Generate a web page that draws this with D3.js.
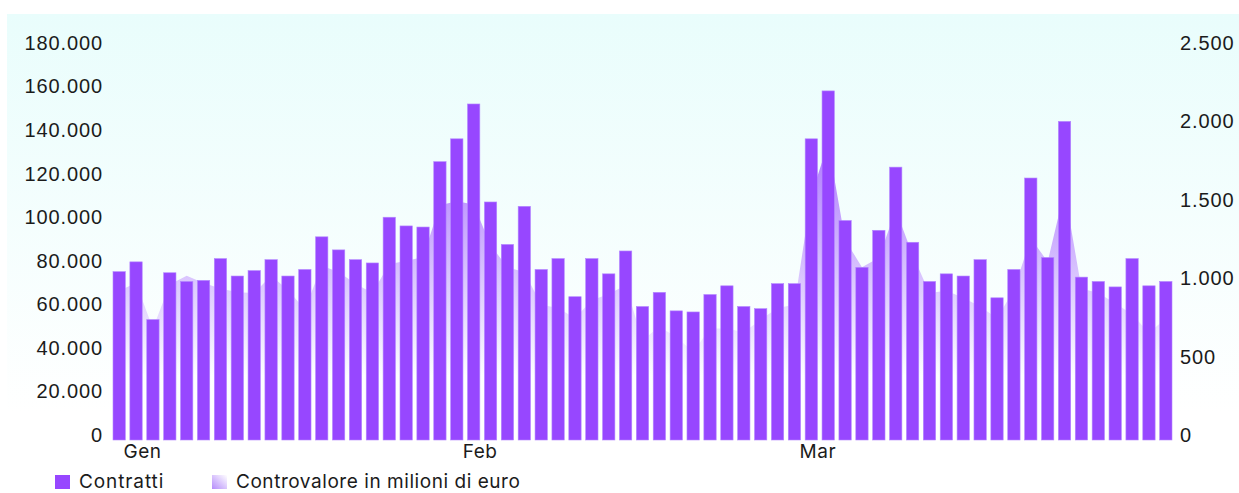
<!DOCTYPE html>
<html>
<head>
<meta charset="utf-8">
<script src="https://cdn.jsdelivr.net/npm/d3@7"></script>
<style>
    body { margin: 0; background: #ffffff; }
    svg { display: block; font-family: "Inter", "Lato", sans-serif; }
    .tick text { fill: #1b1b1b; font-size: 20px; }
    .lbl { fill: #1b1b1b; font-size: 19px; }
</style>
</head>
<body>
<svg id="chart" width="1239" height="493"></svg>
<script>
// 1. Data (one value per trading day, Jan - Mar)

var contratti = [
    75000, 79500, 53000, 74500, 70500, 71000, 81000, 73000, 75500, 80500,
    73000, 76000, 91000, 85000, 80500, 79000, 100000, 96000, 95500, 125500,
    136000, 152000, 107000, 87500, 105000, 76000, 81000, 63500, 81000, 74000,
    84500, 59000, 65500, 57000, 56500, 64500, 68500, 59000, 58000, 69500,
    69500, 136000, 158000, 98500, 77000, 94000, 123000, 88500, 70500, 74000,
    73000, 80500, 63000, 76000, 118000, 81500, 144000, 72500, 70500, 68000,
    81000, 68500, 70500
];

var controvalore = [
    920, 970, 680, 960, 1015, 970, 935, 910, 905, 1015,
    925, 800, 1080, 1040, 965, 905, 1090, 1110, 1135, 1465,
    1490, 1470, 1210, 1070, 1040, 830, 810, 745, 860, 900,
    955, 605, 690, 625, 530, 680, 680, 655, 735, 810,
    830, 1530, 1860, 1245, 1070, 1130, 1435, 1150, 905, 920,
    875, 820, 745, 925, 1255, 1105, 1560, 935, 905, 840,
    770, 650, 745
];

var monthLabels = ["Gen", "Feb", "Mar"];
var monthFirstDay = [1, 21, 41];

var leftTicks = [0, 20000, 40000, 60000, 80000, 100000, 120000, 140000, 160000, 180000];
var rightTicks = [0, 500, 1000, 1500, 2000, 2500];

var seriesNames = ["Contratti", "Controvalore in milioni di euro"];

// 2. Misc

var barColour = "#9747ff";
var itFormat = d3.formatLocale({ decimal: ",", thousands: ".", grouping: [3], currency: ["€", ""] }).format(",d");

var svg = d3.select("#chart");
var defs = svg.append("defs");

var bgGrad = defs.append("linearGradient")
    .attr("id", "bgGrad")
    .attr("x1", 0).attr("y1", 0).attr("x2", 0).attr("y2", 1);
bgGrad.append("stop").attr("offset", "0%").attr("stop-color", "#e9fdfc");
bgGrad.append("stop").attr("offset", "100%").attr("stop-color", "#ffffff");

var areaGrad = defs.append("linearGradient")
    .attr("id", "areaGrad")
    .attr("gradientUnits", "userSpaceOnUse")
    .attr("x1", 0).attr("y1", 58).attr("x2", 0).attr("y2", 376);
areaGrad.append("stop").attr("offset", "0%").attr("stop-color", barColour).attr("stop-opacity", 1);
areaGrad.append("stop").attr("offset", "100%").attr("stop-color", barColour).attr("stop-opacity", 0);

var swatchGrad = defs.append("linearGradient")
    .attr("id", "swatchGrad")
    .attr("x1", 0).attr("y1", 1).attr("x2", 1).attr("y2", 0);
swatchGrad.append("stop").attr("offset", "0%").attr("stop-color", "#b58cfb");
swatchGrad.append("stop").attr("offset", "100%").attr("stop-color", "#ffffff");

// 3. Scales

var x = d3.scaleBand()
    .domain(d3.range(contratti.length))
    .range([113, 1172])
    .paddingInner(0.27)
    .paddingOuter(0);

var yLeft = d3.scaleLinear().domain([0, 180000]).range([435, 43]);
var yRight = d3.scaleLinear().domain([0, 2500]).range([435, 43]);

// 4. Background panel

svg.append("rect")
    .attr("x", 7).attr("y", 14)
    .attr("width", 1232).attr("height", 400)
    .attr("fill", "url(#bgGrad)");

// 5. Area (controvalore) behind the bars

var area = d3.area()
    .x(function (d, i) { return x(i) + x.bandwidth() / 2 })
    .y0(yRight(0) + 5)
    .y1(function (d) { return yRight(d) });

svg.append("path")
    .datum(controvalore)
    .attr("d", area)
    .attr("fill", "url(#areaGrad)");

// 6. Bars (contratti)

svg.append("g")
    .selectAll("rect")
    .data(contratti)
    .enter()
    .append("rect")
    .attr("x", function (d, i) { return x(i) })
    .attr("y", function (d) { return yLeft(d) })
    .attr("width", x.bandwidth())
    .attr("height", function (d) { return yLeft(0) - yLeft(d) + 5 })
    .attr("fill", barColour)
    .attr("stroke", "#b488ff")
    .attr("stroke-width", 0.6);

// 7. Axes

var leftAxis = svg.append("g")
    .attr("transform", "translate(103,0)")
    .call(d3.axisLeft(yLeft).tickValues(leftTicks).tickFormat(itFormat).tickSize(0).tickPadding(0));

var rightAxis = svg.append("g")
    .attr("transform", "translate(1180,0)")
    .call(d3.axisRight(yRight).tickValues(rightTicks).tickFormat(itFormat).tickSize(0).tickPadding(0));

svg.selectAll(".domain").remove();
svg.selectAll(".tick text").attr("font-family", null).attr("font-size", null).style("letter-spacing", "0.9px");

svg.append("g")
    .selectAll("text")
    .data(monthLabels)
    .enter()
    .append("text")
    .attr("class", "lbl")
    .attr("x", function (d, i) { return x(monthFirstDay[i]) + x.step() * 0.75 })
    .attr("y", 451)
    .attr("dy", "0.35em")
    .attr("text-anchor", "middle")
    .style("letter-spacing", "0.5px")
    .text(function (d) { return d });

// 8. Legend

var legend = svg.append("g").attr("transform", "translate(55,475)");
var legendX = [0, 157];

legend.selectAll("rect")
    .data(seriesNames)
    .enter()
    .append("rect")
    .attr("x", function (d, i) { return legendX[i] })
    .attr("y", 0)
    .attr("width", 15).attr("height", 14)
    .attr("fill", function (d, i) { return i == 0 ? barColour : "url(#swatchGrad)" });

legend.selectAll("text")
    .data(seriesNames)
    .enter()
    .append("text")
    .attr("class", "lbl")
    .attr("x", function (d, i) { return legendX[i] + 24 })
    .attr("y", 13)
    .style("letter-spacing", function (d, i) { return i == 0 ? "0.9px" : "0.55px" })
    .text(function (d) { return d });
</script>
</body>
</html>
